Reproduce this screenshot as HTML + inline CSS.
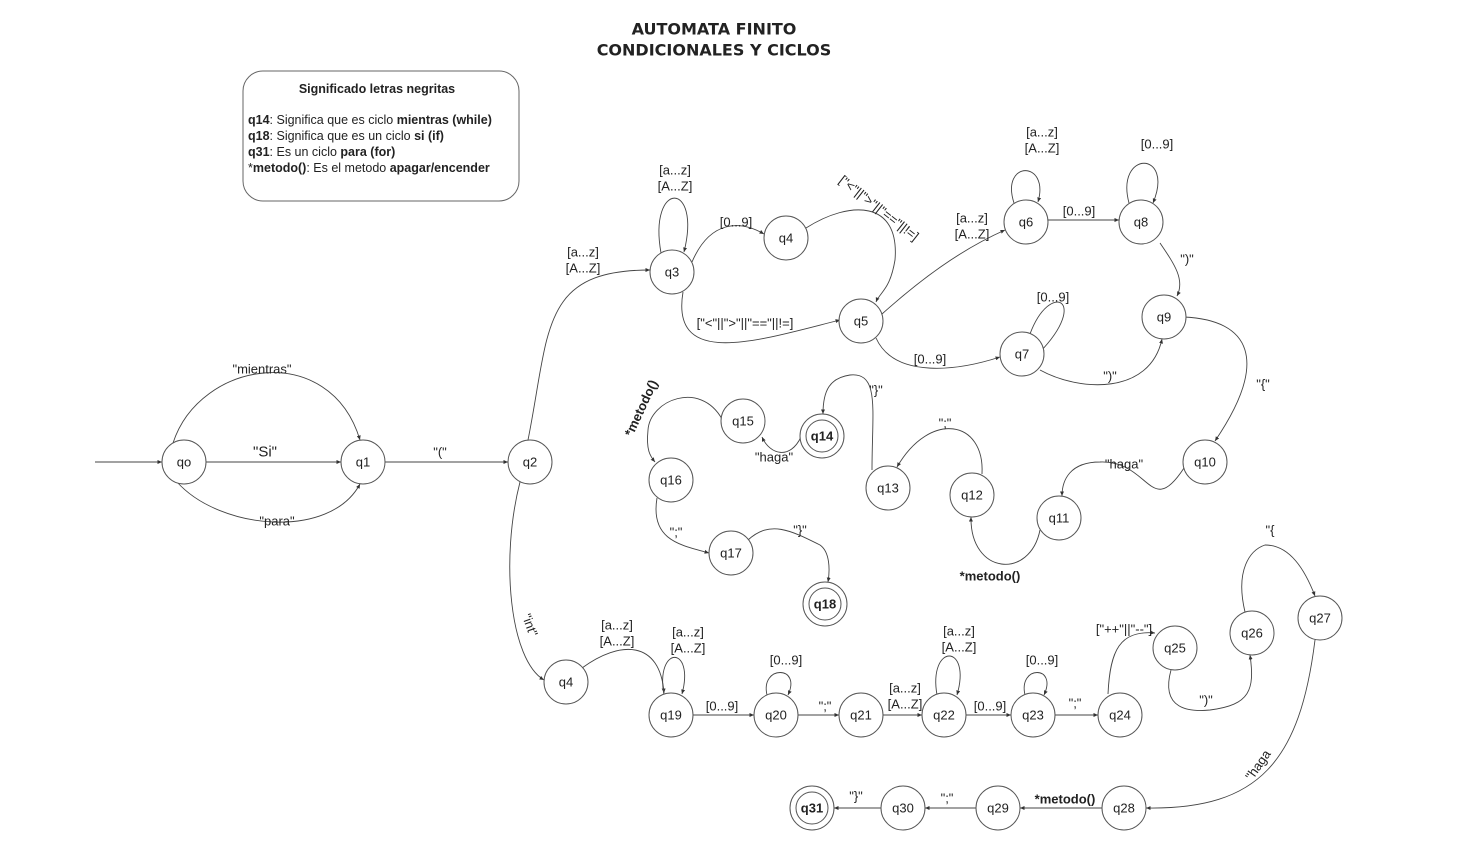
<!DOCTYPE html>
<html><head><meta charset="utf-8"><style>
html,body{margin:0;padding:0;background:#fff;}
svg{display:block;font-family:"Liberation Sans",sans-serif;}
text{font-size:13px;fill:#222;}
.n{fill:#fff;stroke:#555;stroke-width:1;}
.e{fill:none;stroke:#444;stroke-width:0.9;}
.c{text-anchor:middle;dominant-baseline:central;}
.b{font-weight:bold;}
</style></head><body>
<svg width="1466" height="851" viewBox="0 0 1466 851">
<defs><marker id="a" markerWidth="6" markerHeight="6" refX="5" refY="3" orient="auto"><path d="M0,0.8 L5,3 L0,5.2 z" fill="#333"/></marker></defs>
<text x="714" y="29" class="c b" style="font-size:16px;font-family:'DejaVu Sans',sans-serif;">AUTOMATA FINITO</text>
<text x="714" y="50" class="c b" style="font-size:16px;font-family:'DejaVu Sans',sans-serif;">CONDICIONALES Y CICLOS</text>
<rect x="243" y="71" width="276" height="130" rx="20" fill="#fff" stroke="#666"/>
<text x="377" y="89" class="c b" style="font-size:12.5px">Significado letras negritas</text>
<text x="248" y="124" style="font-size:12.5px"><tspan class="b">q14</tspan>: Significa que es ciclo <tspan class="b">mientras (while)</tspan></text>
<text x="248" y="140" style="font-size:12.5px"><tspan class="b">q18</tspan>: Significa que es un ciclo <tspan class="b">si (if)</tspan></text>
<text x="248" y="156" style="font-size:12.5px"><tspan class="b">q31</tspan>: Es un ciclo <tspan class="b">para (for)</tspan></text>
<text x="248" y="172" style="font-size:12.5px">*<tspan class="b">metodo()</tspan>: Es el metodo <tspan class="b">apagar/encender</tspan></text>

<g marker-end="url(#a)" class="e">
<path d="M95,462 L162,462"/>
<path d="M173,443 C200,360 330,340 360,440"/>
<path d="M206,462 L341,462"/>
<path d="M177,482 C220,530 330,540 360,484"/>
<path d="M385,462 L508,462"/>
<path d="M528,440 C550,330 540,270 650,270"/>
<path d="M661,253 C648,180 702,180 684,252"/>
<path d="M692,262 C710,220 740,220 764,234"/>
<path d="M806,228 C850,200 900,200 895,260 C890,290 880,292 876,302"/>
<path d="M683,292 C670,370 760,340 840,320"/>
<path d="M882,314 C920,280 960,250 1005,230"/>
<path d="M1014,203 C1000,160 1050,160 1038,202"/>
<path d="M1048,220 L1119,220"/>
<path d="M1129,203 C1115,150 1175,150 1153,203"/>
<path d="M1160,243 C1175,265 1185,280 1177,296"/>
<path d="M876,338 C895,380 960,370 1000,357"/>
<path d="M1030,334 C1050,280 1090,300 1040,352"/>
<path d="M1040,370 C1080,392 1150,395 1162,339"/>
<path d="M1184,317 C1250,320 1270,360 1215,441"/>
<path d="M1184,468 C1150,520 1150,460 1100,462 C1070,462 1062,480 1062,496"/>
<path d="M1040,530 C1030,580 970,575 971,517"/>
<path d="M982,474 C985,420 930,410 897,467"/>
<path d="M872,470 C872,410 880,372 850,375 C830,378 823,390 823,414"/>
<path d="M801,437 C790,460 770,455 762,437"/>
<path d="M722,419 C700,380 650,400 648,430 C646,450 650,456 655,462"/>
<path d="M657,498 C650,540 680,545 709,553"/>
<path d="M748,540 C770,520 790,530 820,545 C830,552 830,570 828,582"/>
<path d="M520,482 C500,560 510,660 544,680"/>
<path d="M582,668 C620,640 660,640 664,693"/>
<path d="M664,695 C655,645 695,645 682,694"/>
<path d="M693,715 L754,715"/>
<path d="M767,695 C760,665 802,665 788,695"/>
<path d="M798,715 L839,715"/>
<path d="M883,715 L922,715"/>
<path d="M937,695 C928,643 972,643 957,695"/>
<path d="M966,715 L1011,715"/>
<path d="M1025,695 C1018,665 1058,665 1044,695"/>
<path d="M1055,715 L1098,715"/>
<path d="M1108,694 C1110,650 1120,630 1155,633"/>
<path d="M1171,670 C1160,710 1190,712 1210,710 C1250,705 1255,690 1250,655"/>
<path d="M1245,612 C1235,570 1250,550 1265,545 C1290,545 1305,570 1315,596"/>
<path d="M1315,640 C1300,760 1260,810 1146,808"/>
<path d="M1102,808 L1020,808"/>
<path d="M976,808 L925,808"/>
<path d="M881,808 L834,808"/>
</g>

<g>
<circle class="n" cx="184" cy="462" r="22"/><text x="184" y="462" class="c">qo</text>
<circle class="n" cx="363" cy="462" r="22"/><text x="363" y="462" class="c">q1</text>
<circle class="n" cx="530" cy="462" r="22"/><text x="530" y="462" class="c">q2</text>
<circle class="n" cx="672" cy="272" r="22"/><text x="672" y="272" class="c">q3</text>
<circle class="n" cx="786" cy="238" r="22"/><text x="786" y="238" class="c">q4</text>
<circle class="n" cx="861" cy="321" r="22"/><text x="861" y="321" class="c">q5</text>
<circle class="n" cx="1026" cy="222" r="22"/><text x="1026" y="222" class="c">q6</text>
<circle class="n" cx="1141" cy="222" r="22"/><text x="1141" y="222" class="c">q8</text>
<circle class="n" cx="1022" cy="354" r="22"/><text x="1022" y="354" class="c">q7</text>
<circle class="n" cx="1164" cy="317" r="22"/><text x="1164" y="317" class="c">q9</text>
<circle class="n" cx="1205" cy="462" r="22"/><text x="1205" y="462" class="c">q10</text>
<circle class="n" cx="1059" cy="518" r="22"/><text x="1059" y="518" class="c">q11</text>
<circle class="n" cx="972" cy="495" r="22"/><text x="972" y="495" class="c">q12</text>
<circle class="n" cx="888" cy="488" r="22"/><text x="888" y="488" class="c">q13</text>
<circle class="n" cx="822" cy="436" r="22"/><circle class="n" cx="822" cy="436" r="16"/><text x="822" y="436" class="c b">q14</text>
<circle class="n" cx="743" cy="421" r="22"/><text x="743" y="421" class="c">q15</text>
<circle class="n" cx="671" cy="480" r="22"/><text x="671" y="480" class="c">q16</text>
<circle class="n" cx="731" cy="553" r="22"/><text x="731" y="553" class="c">q17</text>
<circle class="n" cx="825" cy="604" r="22"/><circle class="n" cx="825" cy="604" r="16"/><text x="825" y="604" class="c b">q18</text>
<circle class="n" cx="566" cy="682" r="22"/><text x="566" y="682" class="c">q4</text>
<circle class="n" cx="671" cy="715" r="22"/><text x="671" y="715" class="c">q19</text>
<circle class="n" cx="776" cy="715" r="22"/><text x="776" y="715" class="c">q20</text>
<circle class="n" cx="861" cy="715" r="22"/><text x="861" y="715" class="c">q21</text>
<circle class="n" cx="944" cy="715" r="22"/><text x="944" y="715" class="c">q22</text>
<circle class="n" cx="1033" cy="715" r="22"/><text x="1033" y="715" class="c">q23</text>
<circle class="n" cx="1120" cy="715" r="22"/><text x="1120" y="715" class="c">q24</text>
<circle class="n" cx="1175" cy="648" r="22"/><text x="1175" y="648" class="c">q25</text>
<circle class="n" cx="1252" cy="633" r="22"/><text x="1252" y="633" class="c">q26</text>
<circle class="n" cx="1320" cy="618" r="22"/><text x="1320" y="618" class="c">q27</text>
<circle class="n" cx="1124" cy="808" r="22"/><text x="1124" y="808" class="c">q28</text>
<circle class="n" cx="998" cy="808" r="22"/><text x="998" y="808" class="c">q29</text>
<circle class="n" cx="903" cy="808" r="22"/><text x="903" y="808" class="c">q30</text>
<circle class="n" cx="812" cy="808" r="22"/><circle class="n" cx="812" cy="808" r="16"/><text x="812" y="808" class="c b">q31</text>
</g>

<g>
<text x="262" y="369" class="c">"mientras"</text>
<text x="265" y="452" class="c" style="font-size:15px">"Si"</text>
<text x="277" y="521" class="c">"para"</text>
<text x="440" y="452" class="c">"("</text>
<text x="583" y="252" class="c">[a...z]</text><text x="583" y="268" class="c">[A...Z]</text>
<text x="675" y="170" class="c">[a...z]</text><text x="675" y="186" class="c">[A...Z]</text>
<text x="736" y="222" class="c">[0...9]</text>
<text x="879" y="208" class="c" transform="rotate(38 879 208)">["&lt;"||"&gt;"||"=="||!=]</text>
<text x="745" y="323" class="c">["&lt;"||"&gt;"||"=="||!=]</text>
<text x="972" y="218" class="c">[a...z]</text><text x="972" y="234" class="c">[A...Z]</text>
<text x="1042" y="132" class="c">[a...z]</text><text x="1042" y="148" class="c">[A...Z]</text>
<text x="1079" y="211" class="c">[0...9]</text>
<text x="1157" y="144" class="c">[0...9]</text>
<text x="1187" y="259" class="c">")"</text>
<text x="930" y="359" class="c">[0...9]</text>
<text x="1053" y="297" class="c">[0...9]</text>
<text x="1110" y="376" class="c">")"</text>
<text x="1263" y="384" class="c">"{"</text>
<text x="1124" y="464" class="c">"haga"</text>
<text x="990" y="576" class="c b">*metodo()</text>
<text x="945" y="423" class="c">";"</text>
<text x="876" y="390" class="c">"}"</text>
<text x="774" y="457" class="c">"haga"</text>
<text x="641" y="408" class="c b" transform="rotate(-65 641 408)">*metodo()</text>
<text x="676" y="532" class="c">";"</text>
<text x="800" y="530" class="c">"}"</text>
<text x="530" y="625" class="c" transform="rotate(70 530 625)">"int"</text>
<text x="617" y="625" class="c">[a...z]</text><text x="617" y="641" class="c">[A...Z]</text>
<text x="688" y="632" class="c">[a...z]</text><text x="688" y="648" class="c">[A...Z]</text>
<text x="722" y="706" class="c">[0...9]</text>
<text x="786" y="660" class="c">[0...9]</text>
<text x="825" y="706" class="c">";"</text>
<text x="905" y="688" class="c">[a...z]</text><text x="905" y="704" class="c">[A...Z]</text>
<text x="959" y="631" class="c">[a...z]</text><text x="959" y="647" class="c">[A...Z]</text>
<text x="990" y="706" class="c">[0...9]</text>
<text x="1042" y="660" class="c">[0...9]</text>
<text x="1075" y="703" class="c">";"</text>
<text x="1124" y="629" class="c">["++"||"--"]</text>
<text x="1206" y="700" class="c">")"</text>
<text x="1270" y="530" class="c">"{</text>
<text x="1258" y="765" class="c" transform="rotate(-55 1258 765)">"haga</text>
<text x="1065" y="799" class="c b">*metodo()</text>
<text x="947" y="798" class="c">";"</text>
<text x="856" y="796" class="c">"}"</text>
</g>
</svg>
</body></html>
